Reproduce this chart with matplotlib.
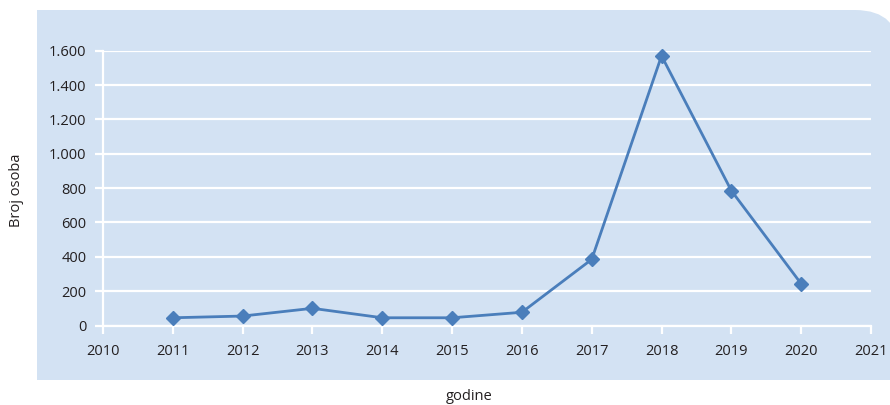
import matplotlib
matplotlib.use("Agg")
import matplotlib.pyplot as plt
from matplotlib.path import Path
from matplotlib.patches import PathPatch

years = [2011, 2012, 2013, 2014, 2015, 2016, 2017, 2018, 2019, 2020]
values = [45, 55, 100, 45, 45, 77, 385, 1570, 785, 243]
x_ticks = list(range(2010, 2022))
y_ticks = [0, 200, 400, 600, 800, 1000, 1200, 1400, 1600]
y_tick_labels = ["0", "200", "400", "600", "800", "1.000", "1.200", "1.400", "1.600"]
x_label = "godine"
y_label = "Broj osoba"

W, H = 890, 405
bg = "#D3E2F3"
line_color = "#4A7EBB"
text_color = "#231F20"
plt.rcParams['font.family'] = ['Open Sans', 'DejaVu Sans']

fig = plt.figure(figsize=(W / 100, H / 100), dpi=100)

def fx(px):
    return px / W
def fy(py):
    return 1 - py / H

verts = [
    (fx(37), fy(380)),
    (fx(37), fy(10)),
    (fx(855), fy(10)),
    (fx(900), fy(10)),
    (fx(900), fy(55)),
    (fx(900), fy(380)),
    (fx(37), fy(380)),
]
codes = [Path.MOVETO, Path.LINETO, Path.LINETO, Path.CURVE3, Path.CURVE3, Path.LINETO, Path.CLOSEPOLY]
panel = PathPatch(Path(verts, codes), transform=fig.transFigure, facecolor=bg, edgecolor="none", zorder=-5)
fig.patches.append(panel)

left, right = 103, 871
top, bottom = 50.7, 325.5
ax = fig.add_axes([fx(left), fy(bottom), (right - left) / W, (bottom - top) / H])
ax.set_zorder(1)
ax.patch.set_visible(False)
ax.set_xlim(2010, 2021)
ax.set_ylim(0, 1600)

for yv in y_ticks:
    ax.axhline(yv, color="white", lw=1.6, zorder=1)

ax.plot(years, values, color=line_color, lw=2, marker="D", markersize=7,
        markerfacecolor=line_color, markeredgecolor=line_color, zorder=3, clip_on=False)

for s in ["top", "right"]:
    ax.spines[s].set_visible(False)
for s in ["left", "bottom"]:
    ax.spines[s].set_color("white")
    ax.spines[s].set_linewidth(1.6)

ax.set_xticks(x_ticks)
ax.set_xticklabels([str(t) for t in x_ticks])
ax.set_yticks(y_ticks)
ax.set_yticklabels(y_tick_labels)
ax.tick_params(axis="x", direction="out", length=6, width=1.6, color="white",
               labelsize=10.5, labelcolor=text_color, pad=7)
ax.tick_params(axis="y", direction="out", length=6, width=1.6, color="white",
               labelsize=10.5, labelcolor=text_color, pad=6)

fig.text(fx(17), fy(190), y_label, rotation=90, ha="center", va="center",
         fontsize=10.5, color=text_color)
fig.text(fx(469), fy(396), x_label, ha="center", va="center",
         fontsize=10.5, color=text_color)

fig.savefig("out.png", dpi=100)
